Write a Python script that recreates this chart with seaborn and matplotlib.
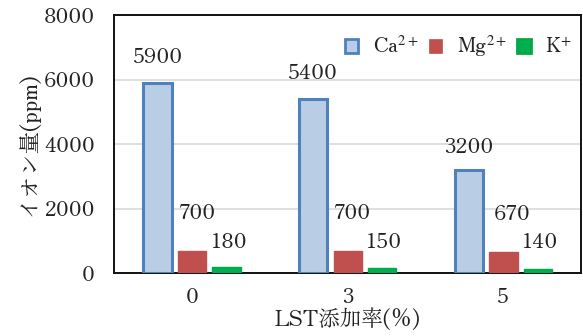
import matplotlib
matplotlib.use("Agg")
import matplotlib.pyplot as plt
import seaborn as sns
import pandas as pd

# Ion content by LST addition rate
rates = ["0", "3", "5"]
ions = ["Ca$^{2+}$", "Mg$^{2+}$", "K$^{+}$"]
ca = [5900, 5400, 3200]
mg = [700, 700, 670]
k = [180, 150, 140]
yticks = [0, 2000, 4000, 6000, 8000]

sns.set_theme(style="white")
plt.rcParams["font.family"] = ["Zen Old Mincho", "Shippori Mincho", "Noto Sans CJK JP", "DejaVu Serif"]
plt.rcParams["mathtext.fontset"] = "stix"

df = pd.DataFrame({
    "rate": rates * 3,
    "ion": [ions[0]] * 3 + [ions[1]] * 3 + [ions[2]] * 3,
    "value": ca + mg + k,
})

face = {ions[0]: "#B9CDE5", ions[1]: "#C0504D", ions[2]: "#00B050"}
edge = {ions[0]: "#4F81BD", ions[1]: "#C0504D", ions[2]: "#00A84A"}

fig = plt.figure(figsize=(5.83, 3.36), dpi=100)
ax = fig.add_axes([0.196, 0.187, 0.801, 0.768])

sns.barplot(data=df, x="rate", y="value", hue="ion", hue_order=ions,
            palette=face, saturation=1, width=0.665, gap=0.18, ax=ax,
            errorbar=None, zorder=3)

# Outline each series
for cont, ion in zip(ax.containers, ions):
    for bar in cont:
        bar.set_edgecolor(edge[ion])
        bar.set_linewidth(2.2 if ion == ions[0] else 1.0)

# Value labels above the bars: (dx, dy) in points to the text baseline
offsets = {
    ions[0]: [(0, 14), (0, 14.5), (0, 12)],
    ions[1]: [(3, 22.5), (3, 22.5), (6, 23)],
    ions[2]: [(1, 14), (1, 14.5), (1, 15)],
}
for cont, ion, vals in zip(ax.containers, ions, [ca, mg, k]):
    for bar, v, (dx, dy) in zip(cont, vals, offsets[ion]):
        ax.annotate(f"{v}", xy=(bar.get_x() + bar.get_width() / 2, v),
                    xytext=(dx, dy), textcoords="offset points",
                    ha="center", va="baseline", fontsize=15, color="#222222")

ax.set_ylim(0, 8000)
ax.set_yticks(yticks)
ax.set_yticklabels([str(t) for t in yticks])
ax.tick_params(axis="both", labelsize=15, length=0, colors="#222222")
ax.tick_params(axis="x", pad=11)
ax.tick_params(axis="y", pad=14)
ax.yaxis.grid(True, color="#D9D9D9", linewidth=1.2, zorder=0)
ax.set_axisbelow(True)
for sp in ax.spines.values():
    sp.set_color("#111111")
    sp.set_linewidth(1.4)

ax.set_xlabel("LST添加率(%)", fontsize=15.5, labelpad=0, color="#222222")
ax.set_ylabel("イオン量(ppm)", fontsize=16, labelpad=4, color="#222222")

leg = ax.legend(loc="upper right", bbox_to_anchor=(1.02, 1.0), frameon=False,
                ncol=3, fontsize=15, handlelength=0.65, handleheight=0.65,
                columnspacing=0.5, handletextpad=0.7)
for h, ion in zip(leg.legend_handles, ions):
    h.set_edgecolor(edge[ion])
    h.set_linewidth(2.0 if ion != ions[1] else 0.5)

fig.savefig("out.png", dpi=100)
